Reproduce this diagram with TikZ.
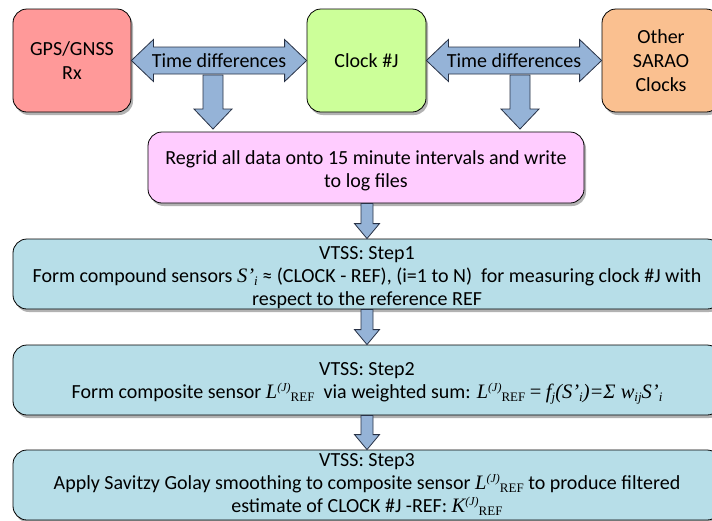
\documentclass[tikz,border=0pt]{standalone}
\usepackage{fontspec}
\setmainfont{Carlito}
\newfontfamily\tms{Liberation Serif}
\usetikzlibrary{calc,shadows}
\definecolor{gpsc}{RGB}{255,153,153}
\definecolor{clkc}{RGB}{204,255,153}
\definecolor{othc}{RGB}{250,192,144}
\definecolor{regc}{RGB}{255,204,255}
\definecolor{stpc}{RGB}{183,222,232}
\definecolor{arrc}{RGB}{149,179,215}
\definecolor{arrd}{RGB}{40,50,70}
\newcommand\mi[1]{{\tms\itshape\fontsize{20.5}{23}\selectfont #1}}
\newcommand\msub[1]{\raisebox{-3pt}{\tms\itshape\fontsize{13}{13}\selectfont #1}}
\newcommand\Lref[1]{\mi{#1}\raisebox{7pt}{\tms\itshape\fontsize{12}{12}\selectfont(J)}\raisebox{-3pt}{\tms\fontsize{13}{13}\selectfont REF}}
\newcommand\tstrut{\rule{0pt}{20pt}}
\newcommand\harrow[2]{\draw[barrow] let \p1=(#1.east), \p2=(#2.west) in
  (\x1,\y1) -- (\x1+22,\y1+21) -- (\x1+22,\y1+13.5) -- (\x2-22,\y1+13.5) -- (\x2-22,\y1+21)
  -- (\x2,\y1) -- (\x2-22,\y1-21) -- (\x2-22,\y1-13.5) -- (\x1+22,\y1-13.5) -- (\x1+22,\y1-21) -- cycle;}
\newcommand\varrow[5]{\draw[barrow] let \p1=(#1), \p2=(#2) in
  (\x2,\y2) -- (\x2-#4,\y2+#5) -- (\x2-#3,\y2+#5) -- (\x2-#3,\y1) -- (\x2+#3,\y1)
  -- (\x2+#3,\y2+#5) -- (\x2+#4,\y2+#5) -- cycle;}
\tikzset{
  box/.style={draw=black, line width=0.8pt, rounded corners=14pt, align=center,
    font=\fontsize{20}{24}\selectfont, inner sep=0pt,
    drop shadow={shadow xshift=2pt,shadow yshift=-3pt,opacity=0.3,fill=black}},
  stepbox/.style={box, fill=stpc, minimum width=708, minimum height=70,
    font=\fontsize{20}{23}\selectfont},
  barrow/.style={fill=arrc, draw=arrd, line width=0.8pt, line join=miter},
  lbl/.style={font=\fontsize{20}{23}\selectfont, inner sep=0pt}
}
\begin{document}
\begin{tikzpicture}[x=1pt,y=-1pt]
\useasboundingbox (0,0) rectangle (712,520);
\clip (0,0) rectangle (712,520);
\fill[white] (0,0) rectangle (712,520);
% top boxes
\node[box, fill=gpsc, minimum width=118, minimum height=103] (gps) at (72,60.5) {GPS/GNSS\\Rx};
\node[box, fill=clkc, minimum width=119, minimum height=103] (clk) at (366.5,60.5) {Clock \#J};
\node[box, fill=othc, minimum width=118, minimum height=103] (oth) at (661,60.5) {Other\\SARAO\\Clocks};
% regrid box
\node[box, fill=regc, minimum width=436, minimum height=71, font=\fontsize{20}{23}\selectfont] (reg) at (366,167.5)
  {\tstrut Regrid all data onto 15 minute intervals and write\\to log files};
% step boxes
\node[stepbox] (s1) at (367,274) {\tstrut VTSS: Step1\\Form compound sensors \mi{S’}\msub{i} ≈ (CLOCK - REF), (i=1 to N)\ \ for measuring clock \#J with\\respect to the reference REF};
\node[stepbox] (s2) at (367,380) {\tstrut VTSS: Step2\\Form composite sensor \Lref{L}\ \ via weighted sum: \Lref{L} {\tms\fontsize{20.5}{23}\selectfont =} \mi{f}\msub{j}\mi{(S’}\msub{i}\mi{)=Σ w}\msub{ij}\mi{S’}\msub{i}};
\node[stepbox] (s3) at (367,485) {VTSS: Step3\\Apply Savitzy Golay smoothing to composite sensor \Lref{L} to produce filtered\\estimate of CLOCK \#J -REF: \Lref{K}};
% horizontal double arrows
\harrow{gps}{clk}
\harrow{clk}{oth}
\node[lbl] (td1) at (219,61) {Time differences};
\node[lbl] (td2) at (514,61) {Time differences};
% down arrows from the time differences
\coordinate (d1s) at (213,75);
\coordinate (d1e) at (213,129);
\coordinate (d2s) at (520,75);
\coordinate (d2e) at (520,129);
\varrow{d1s}{d1e}{10}{19}{20}
\varrow{d2s}{d2e}{10}{19}{20}
% vertical arrows between steps
\varrow{reg.south}{s1.north}{6}{12.5}{15}
\varrow{s1.south}{s2.north}{6}{12.5}{15}
\varrow{s2.south}{s3.north}{6}{12.5}{15}
\end{tikzpicture}
\end{document}
